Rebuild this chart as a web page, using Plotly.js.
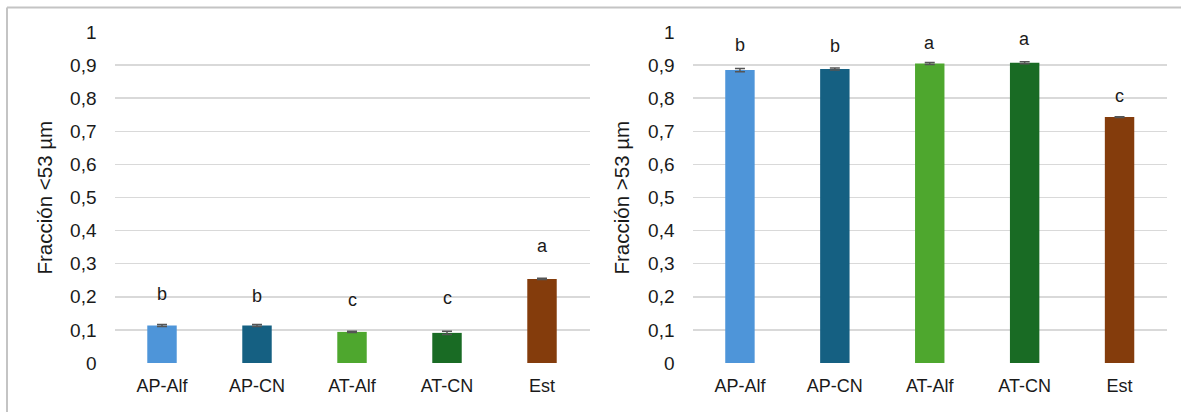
<!DOCTYPE html>
<html>
<head>
<meta charset="utf-8">
<script src="https://cdn.plot.ly/plotly-3.0.1.min.js"></script>
<style>html,body{margin:0;padding:0;background:#fff;}#chart{width:1181px;height:412px;}</style>
</head>
<body>
<div id="chart"></div>
<script>
// ---- data ----
const categories = ["AP-Alf", "AP-CN", "AT-Alf", "AT-CN", "Est"];
const colors = ["#4E95D9", "#156082", "#4EA72E", "#196B24", "#843C0C"];

const fineValues = [0.113, 0.113, 0.094, 0.091, 0.254];
const fineErrors = [0.003, 0.003, 0.002, 0.005, 0.002];
const fineLetters = ["b", "b", "c", "c", "a"];
const fineLetterY = [0.208, 0.203, 0.190, 0.196, 0.352];

const coarseValues = [0.885, 0.888, 0.905, 0.907, 0.743];
const coarseErrors = [0.005, 0.003, 0.003, 0.003, 0.001];
const coarseLetters = ["b", "b", "a", "a", "c"];
const coarseLetterY = [0.962, 0.957, 0.967, 0.980, 0.808];

const yTickVals = [0, 0.1, 0.2, 0.3, 0.4, 0.5, 0.6, 0.7, 0.8, 0.9, 1];
const yTickText = ["0", "0,1", "0,2", "0,3", "0,4", "0,5", "0,6", "0,7", "0,8", "0,9", "1"];

const titleLeft = "Fracción <53 µm";
const titleRight = "Fracción >53 µm";

// ---- layout geometry ----
const W = 1181, H = 412;
const font = "Liberation Sans, Arial, sans-serif";
const px = v => v / W;
const py = v => 1 - v / H;

function barTrace(vals, errs, xa, ya) {
  return {
    type: "bar", x: categories, y: vals, xaxis: xa, yaxis: ya,
    marker: {color: colors, line: {width: 0}},
    width: 0.31,
    error_y: {type: "data", array: errs, visible: true, color: "#555", thickness: 1.5, width: 5},
    hoverinfo: "skip", showlegend: false
  };
}

const traces = [
  barTrace(fineValues, fineErrors, "x", "y"),
  barTrace(coarseValues, coarseErrors, "x2", "y2")
];

function yAxis(anchor) {
  return {
    anchor: anchor, domain: [py(363), py(32)], range: [0, 1],
    tickvals: yTickVals, ticktext: yTickText,
    tickfont: {family: font, size: 19, color: "#1a1a1a"},
    showgrid: true, gridcolor: "#d9d9d9", gridwidth: 1.5,
    zeroline: false, showline: false, ticks: "", ticklabelstandoff: 17,
    fixedrange: true
  };
}
function xAxis(domain, anchor) {
  return {
    anchor: anchor, domain: domain,
    tickfont: {family: font, size: 18, color: "#1a1a1a"},
    showgrid: false, zeroline: false, showline: false, ticks: "",
    ticklabelstandoff: 10, fixedrange: true
  };
}

const annotations = [];
categories.forEach((c, i) => {
  annotations.push({xref: "x", yref: "y", x: c, y: fineLetterY[i], text: fineLetters[i],
    showarrow: false, font: {family: font, size: 18, color: "#1a1a1a"}});
  annotations.push({xref: "x2", yref: "y2", x: c, y: coarseLetterY[i], text: coarseLetters[i],
    showarrow: false, font: {family: font, size: 18, color: "#1a1a1a"}});
});
annotations.push({xref: "paper", yref: "paper", x: px(44), y: py(197.5), text: titleLeft,
  textangle: -90, showarrow: false, xanchor: "center", yanchor: "middle",
  font: {family: font, size: 20.5, color: "#1a1a1a"}});
annotations.push({xref: "paper", yref: "paper", x: px(621), y: py(197.5), text: titleRight,
  textangle: -90, showarrow: false, xanchor: "center", yanchor: "middle",
  font: {family: font, size: 20.5, color: "#1a1a1a"}});

const layout = {
  width: W, height: H,
  margin: {l: 0, r: 0, t: 0, b: 0},
  paper_bgcolor: "#fff", plot_bgcolor: "rgba(0,0,0,0)",
  xaxis: xAxis([px(114.5), px(589.5)], "y"),
  yaxis: yAxis("x"),
  xaxis2: xAxis([px(692.5), px(1167)], "y2"),
  yaxis2: yAxis("x2"),
  annotations: annotations,
  shapes: [
    {type: "line", xref: "paper", yref: "paper", x0: px(7), x1: 1, y0: py(7.5), y1: py(7.5),
     line: {color: "#c4c4c4", width: 2}},
    {type: "line", xref: "paper", yref: "paper", x0: px(7), x1: px(7), y0: py(7.5), y1: 0,
     line: {color: "#c4c4c4", width: 2}}
  ],
  bargap: 0.69
};

Plotly.newPlot("chart", traces, layout, {displayModeBar: false, staticPlot: true});
</script>
</body>
</html>
